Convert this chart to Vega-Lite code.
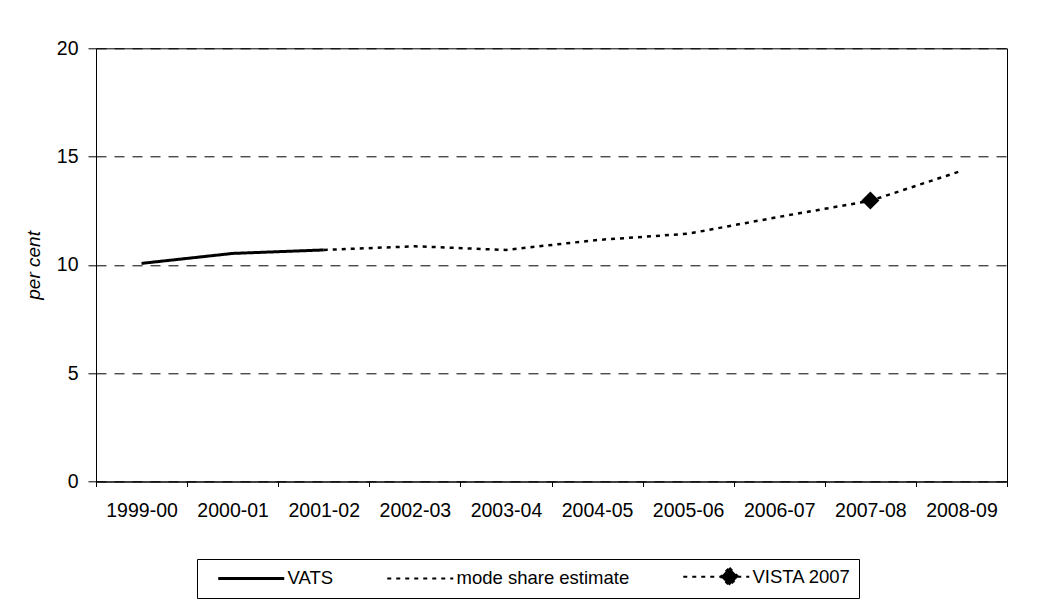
{
  "$schema": "https://vega.github.io/schema/vega-lite/v6.json",
  "width": 911,
  "height": 433.2,
  "autosize": {"type": "none"},
  "padding": {"left": 96, "top": 48.3, "right": 32, "bottom": 122.5},
  "background": "white",
  "config": {
    "view": {"stroke": "black", "strokeWidth": 1},
    "font": "Liberation Sans",
    "axis": {"labelFont": "Liberation Sans", "titleFont": "Liberation Sans", "labelColor": "black", "titleColor": "black", "domainColor": "black", "tickColor": "black"}
  },
  "data": {
    "values": [
      {"period": "1999-00", "series": "VATS", "value": 10.07},
      {"period": "2000-01", "series": "VATS", "value": 10.53},
      {"period": "2001-02", "series": "VATS", "value": 10.69},
      {"period": "2001-02", "series": "mode share estimate", "value": 10.69},
      {"period": "2002-03", "series": "mode share estimate", "value": 10.86},
      {"period": "2003-04", "series": "mode share estimate", "value": 10.69},
      {"period": "2004-05", "series": "mode share estimate", "value": 11.15},
      {"period": "2005-06", "series": "mode share estimate", "value": 11.44},
      {"period": "2006-07", "series": "mode share estimate", "value": 12.22},
      {"period": "2007-08", "series": "mode share estimate", "value": 12.96},
      {"period": "2008-09", "series": "mode share estimate", "value": 14.34},
      {"period": "2007-08", "series": "VISTA 2007", "value": 12.97}
    ]
  },
  "encoding": {
    "x": {
      "field": "period",
      "type": "ordinal",
      "bandPosition": 0.5,
      "scale": {"type": "band", "paddingInner": 0, "paddingOuter": 0, "domain": ["1999-00", "2000-01", "2001-02", "2002-03", "2003-04", "2004-05", "2005-06", "2006-07", "2007-08", "2008-09"]},
      "axis": {"title": null, "labelAngle": 0, "tickBand": "extent", "tickSize": 5, "labelPadding": 15, "labelFontSize": 19.5, "grid": false}
    },
    "y": {
      "field": "value",
      "type": "quantitative",
      "scale": {"domain": [0, 20], "nice": false, "zero": true},
      "axis": {"title": "per cent", "titleFontStyle": "italic", "titleFontWeight": "normal", "titleFontSize": 19, "titleX": -53, "titleY": 216.6, "titleAngle": 270, "titleBaseline": "bottom", "titleAlign": "center", "values": [0, 5, 10, 15, 20], "tickSize": 8, "labelPadding": 10, "labelFontSize": 19.5, "grid": true, "gridColor": "black", "gridDash": [10, 8], "gridWidth": 1}
    }
  },
  "layer": [
    {
      "transform": [{"filter": "datum.series === 'VATS'"}],
      "mark": {"type": "line", "color": "black", "strokeWidth": 3},
      "encoding": {
        "strokeDash": {
          "field": "series",
          "type": "nominal",
          "scale": {"domain": ["VATS", "mode share estimate", "VISTA 2007"], "range": [[1, 0], [4, 5], [4, 5]]},
          "legend": {
            "title": null,
            "orient": "none",
            "legendX": 101,
            "legendY": 510.7,
            "direction": "horizontal",
            "columns": 3,
            "symbolType": "stroke",
            "symbolStrokeColor": "black",
            "symbolStrokeWidth": 2,
            "symbolOffset": 37,
            "labelFontSize": 18.5,
            "labelFont": "Liberation Sans",
            "labelColor": "black",
            "labelOffset": 27,
            "labelLimit": 300,
            "columnPadding": 40,
            "strokeColor": "black",
            "padding": 8,
            "encode": {
              "symbols": {
                "update": {
                  "shape": {"signal": "datum.value === 'VISTA 2007' ? 'M-1,0H1M0.4,-0.27L0.67,0L0.4,0.27L0.13,0Z' : 'stroke'"},
                  "size": {"value": 4356},
                  "stroke": {"value": "black"},
                  "strokeOpacity": {"value": 1},
                  "opacity": {"value": 1},
                  "strokeWidth": {"signal": "datum.value === 'VATS' ? 3 : 2"},
                  "fill": {"value": "black"},
                  "fillOpacity": {"value": 1}
                }
              }
            }
          }
        }
      }
    },
    {
      "transform": [{"filter": "datum.series === 'mode share estimate'"}],
      "mark": {"type": "line", "color": "black", "strokeWidth": 2.5},
      "encoding": {
        "strokeDash": {"field": "series", "type": "nominal"}
      }
    },
    {
      "transform": [{"filter": "datum.series === 'VISTA 2007'"}],
      "mark": {"type": "point", "shape": "diamond", "filled": true, "size": 324, "color": "black", "opacity": 1},
      "encoding": {}
    }
  ]
}
